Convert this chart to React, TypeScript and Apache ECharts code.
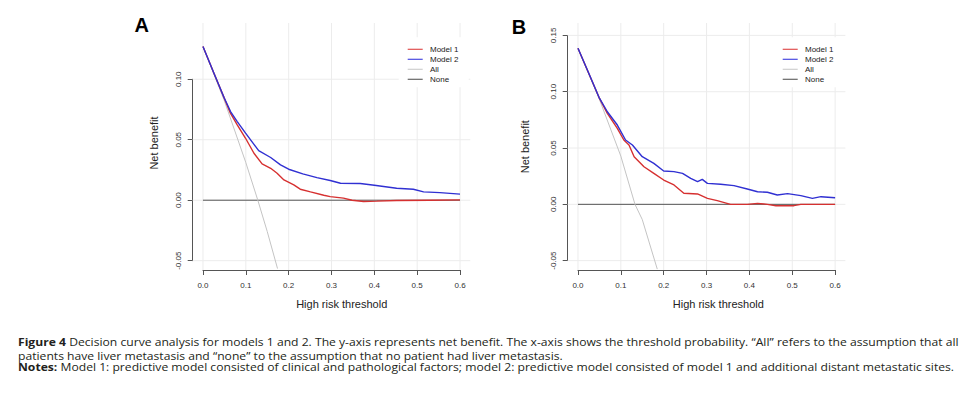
import React, { useEffect, useRef } from "react";
import * as echarts from "echarts";

const xTicks = [0, 0.1, 0.2, 0.3, 0.4, 0.5, 0.6];
const yTicksA = [-0.05, 0, 0.05, 0.1];
const yTicksB = [-0.05, 0, 0.05, 0.1, 0.15];
const legendNames = ["Model 1", "Model 2", "All", "None"];
const legendColors = ["#e05050", "#4a4ae0", "#cfcfcf", "#666666"];
const panelLabels = ["A", "B"];
const xTitle = "High risk threshold";
const yTitle = "Net benefit";

const aModel1: number[][] = [
  [0, 0.127], [0.0256, 0.105], [0.049, 0.085], [0.064, 0.072], [0.08, 0.0623],
  [0.0994, 0.0512], [0.119, 0.0388], [0.138, 0.03], [0.158, 0.0264], [0.173, 0.0223],
  [0.189, 0.0168], [0.212, 0.0127], [0.227, 0.0091], [0.251, 0.0069], [0.282, 0.0041],
  [0.297, 0.003], [0.328, 0.0017], [0.348, 0.0], [0.375, -0.0011], [0.406, -0.0008],
  [0.452, -0.0003], [0.53, 0.0], [0.6, 0.0003],
];
const aModel2: number[][] = [
  [0, 0.127], [0.0256, 0.105], [0.0489, 0.0851], [0.0644, 0.0733], [0.08, 0.065],
  [0.0994, 0.0554], [0.13, 0.041], [0.158, 0.0353], [0.181, 0.0292], [0.2, 0.0256],
  [0.233, 0.0218], [0.266, 0.0187], [0.297, 0.0163], [0.321, 0.014], [0.367, 0.0138],
  [0.4, 0.0124], [0.452, 0.0099], [0.491, 0.0091], [0.515, 0.0069], [0.553, 0.0063],
  [0.6, 0.005],
];
const aAll: number[][] = [
  [0, 0.127], [0.05, 0.0821], [0.1, 0.0311], [0.128, 0.0], [0.15, -0.0259], [0.174, -0.0565],
];
const aNone: number[][] = [[0, 0], [0.6, 0]];

const bModel1: number[][] = [
  [0, 0.1385], [0.049, 0.095], [0.0685, 0.0808], [0.0918, 0.0675], [0.107, 0.0571],
  [0.119, 0.0527], [0.131, 0.0423], [0.154, 0.0334], [0.177, 0.0275], [0.2, 0.0216],
  [0.224, 0.0172], [0.247, 0.0098], [0.279, 0.0092], [0.302, 0.0053], [0.325, 0.0033],
  [0.356, 0.0], [0.395, 0.0], [0.419, 0.0009], [0.442, 0.0], [0.462, -0.0012],
  [0.504, -0.0012], [0.52, 0.0], [0.6, 0.0],
];
const bModel2: number[][] = [
  [0, 0.1385], [0.0257, 0.116], [0.049, 0.095], [0.0685, 0.0822], [0.0918, 0.0704],
  [0.111, 0.0571], [0.127, 0.0527], [0.15, 0.0423], [0.177, 0.0364], [0.2, 0.0296],
  [0.224, 0.029], [0.244, 0.0275], [0.263, 0.0231], [0.279, 0.0201], [0.29, 0.0222],
  [0.302, 0.0186], [0.333, 0.0178], [0.364, 0.0166], [0.395, 0.0136], [0.419, 0.0112],
  [0.442, 0.0107], [0.465, 0.0083], [0.489, 0.0095], [0.52, 0.0077], [0.547, 0.0053],
  [0.567, 0.0068], [0.6, 0.0059],
];
const bAll: number[][] = [
  [0, 0.1385], [0.05, 0.0932], [0.1, 0.0428], [0.133, 0.0], [0.15, -0.0135], [0.185, -0.0575],
];
const bNone: number[][] = [[0, 0], [0.6, 0]];

const captionBold = ["Figure 4", "", "Notes:"];
const captionRest = [
  " Decision curve analysis for models 1 and 2. The y-axis represents net benefit. The x-axis shows the threshold probability. \u201cAll\u201d refers to the assumption that all",
  "patients have liver metastasis and \u201cnone\u201d to the assumption that no patient had liver metastasis.",
  " Model 1: predictive model consisted of clinical and pathological factors; model 2: predictive model consisted of model 1 and additional distant metastatic sites.",
];

const FONT = "'Liberation Sans', Arial, sans-serif";
const CAPFONT = "'Open Sans', 'Liberation Sans', sans-serif";
const CAPSIZE = 10.5;
const lineColors = ["#d63030", "#3030d2", "#c4c4c4", "#555555"];

const panels = [
  {
    grid: { left: 192.7, top: 23, width: 277.6, height: 247 },
    xMin: -0.024, xMax: 0.624, yMin: -0.0577, yMax: 0.1465, yInterval: 0.05,
    yTicks: yTicksA, data: [aModel1, aModel2, aAll, aNone],
    label: { x: 141.7, y: 25 }, yTitle: { x: 153.5, y: 143 }, xTitle: { x: 341.7, y: 303.5 },
    legend: { x: 407.7, y: 49.3 },
  },
  {
    grid: { left: 567.7, top: 23, width: 277.7, height: 247 },
    xMin: -0.024, xMax: 0.624, yMin: -0.0583, yMax: 0.161, yInterval: 0.05,
    yTicks: yTicksB, data: [bModel1, bModel2, bAll, bNone],
    label: { x: 519, y: 26.5 }, yTitle: { x: 525, y: 146.7 }, xTitle: { x: 718.3, y: 304.3 },
    legend: { x: 782.7, y: 49.3 },
  },
];

function captionScaleX(): number {
  const target = 941;
  try {
    const ctx = document.createElement("canvas").getContext("2d");
    if (!ctx) return 1.12;
    ctx.font = `bold ${CAPSIZE}px ${CAPFONT}`;
    const wb = ctx.measureText(captionBold[0]).width;
    ctx.font = `${CAPSIZE}px ${CAPFONT}`;
    const wr = ctx.measureText(captionRest[0]).width;
    const w = wb + wr;
    if (!w) return 1.12;
    return target / w;
  } catch (e) {
    return 1.12;
  }
}

export default function App() {
  const ref = useRef<HTMLDivElement>(null);
  useEffect(() => {
    if (!ref.current) return;
    const chart = echarts.init(ref.current, undefined, { renderer: "svg" });
    const grids: any[] = [];
    const xAxes: any[] = [];
    const yAxes: any[] = [];
    const series: any[] = [];
    const graphics: any[] = [];

    panels.forEach((p, i) => {
      const g = p.grid;
      const px = (v: number) => g.left + ((v - p.xMin) / (p.xMax - p.xMin)) * g.width;
      const py = (v: number) => g.top + ((p.yMax - v) / (p.yMax - p.yMin)) * g.height;
      const dataIdx = i * 2;
      const axIdx = i * 2 + 1;
      const yFirst = p.yTicks[0];
      const yLast = p.yTicks[p.yTicks.length - 1];
      const xFirst = xTicks[0];
      const xLast = xTicks[xTicks.length - 1];

      grids.push({ left: g.left, top: g.top, width: g.width, height: g.height });
      xAxes.push({ type: "value", gridIndex: dataIdx, min: p.xMin, max: p.xMax, show: false });
      yAxes.push({ type: "value", gridIndex: dataIdx, min: p.yMin, max: p.yMax, show: false });

      const axLeft = px(xFirst);
      const axRight = px(xLast);
      const axTop = py(yLast);
      const axBottom = py(yFirst);
      grids.push({ left: axLeft, top: axTop, width: axRight - axLeft, height: axBottom - axTop });
      xAxes.push({
        type: "value", gridIndex: axIdx, min: xFirst, max: xLast, interval: 0.1,
        position: "bottom", offset: g.top + g.height - axBottom,
        axisLine: { show: true, onZero: false, lineStyle: { color: "#555", width: 1 } },
        axisTick: { show: true, length: 5, lineStyle: { color: "#555", width: 1 } },
        axisLabel: { formatter: (v: number) => v.toFixed(1), fontSize: 8, color: "#333", margin: 11, fontFamily: FONT },
        splitLine: { show: false },
      });
      yAxes.push({
        type: "value", gridIndex: axIdx, min: yFirst, max: yLast, interval: p.yInterval,
        position: "left", offset: axLeft - g.left,
        axisLine: { show: true, onZero: false, lineStyle: { color: "#555", width: 1 } },
        axisTick: { show: true, length: 5, lineStyle: { color: "#555", width: 1 } },
        axisLabel: { formatter: (v: number) => v.toFixed(2), fontSize: 8, color: "#333", margin: 10, rotate: 90, fontFamily: FONT },
        splitLine: { show: false },
      });

      xTicks.forEach((v) => {
        series.push({
          type: "line", xAxisIndex: dataIdx, yAxisIndex: dataIdx, silent: true, showSymbol: false, symbol: "none",
          data: [[v, p.yMin], [v, p.yMax]], lineStyle: { color: "#ececec", width: 1 },
        });
      });
      p.yTicks.forEach((v) => {
        series.push({
          type: "line", xAxisIndex: dataIdx, yAxisIndex: dataIdx, silent: true, showSymbol: false, symbol: "none",
          data: [[p.xMin, v], [p.xMax, v]], lineStyle: { color: "#ececec", width: 1 },
        });
      });

      const order = [3, 2, 0, 1];
      order.forEach((k) => {
        series.push({
          type: "line", name: legendNames[k], xAxisIndex: dataIdx, yAxisIndex: dataIdx,
          data: p.data[k], showSymbol: false, symbol: "none", silent: true, clip: true,
          lineStyle: { color: lineColors[k], width: k < 2 ? 1.4 : 1 },
        });
      });

      graphics.push({
        type: "text", x: p.label.x, y: p.label.y,
        style: { text: panelLabels[i], fontSize: 20, fontWeight: "bold", fontFamily: FONT, fill: "#000", align: "center", verticalAlign: "middle" },
      });
      graphics.push({
        type: "text", x: p.yTitle.x, y: p.yTitle.y, rotation: Math.PI / 2,
        style: { text: yTitle, fontSize: 11, fontFamily: FONT, fill: "#222", align: "center", verticalAlign: "middle" },
      });
      graphics.push({
        type: "text", x: p.xTitle.x, y: p.xTitle.y,
        style: { text: xTitle, fontSize: 11, fontFamily: FONT, fill: "#222", align: "center", verticalAlign: "middle" },
      });
      graphics.push({
        type: "rect", z: 100, shape: { x: p.legend.x - 9, y: p.legend.y - 12, width: 70, height: 50 },
        style: { fill: "#fff" },
      });
      legendNames.forEach((name, k) => {
        const ly = p.legend.y + k * 10;
        graphics.push({
          type: "line", z: 101, shape: { x1: p.legend.x, y1: ly, x2: p.legend.x + 15, y2: ly },
          style: { stroke: legendColors[k], lineWidth: 1.2 },
        });
        graphics.push({
          type: "text", z: 101, x: p.legend.x + 22.3, y: ly,
          style: { text: name, fontSize: 8, lineHeight: 9, fontFamily: FONT, fill: "#222", verticalAlign: "middle" },
        });
      });
    });

    const sx = captionScaleX();
    const capY = [342.2, 355.4, 367.2];
    captionRest.forEach((t, k) => {
      const txt = captionBold[k] ? `{b|${captionBold[k]}}${t}` : t;
      graphics.push({
        type: "text", x: 18, y: capY[k], scaleX: sx,
        style: {
          text: txt, fontSize: CAPSIZE, lineHeight: 11, fontFamily: CAPFONT, fill: "#231f20", verticalAlign: "middle",
          rich: { b: { fontSize: CAPSIZE, lineHeight: 11, fontFamily: CAPFONT, fontWeight: "bold", fill: "#231f20" } },
        },
      });
    });

    chart.setOption({
      animation: false,
      backgroundColor: "#fff",
      grid: grids,
      xAxis: xAxes,
      yAxis: yAxes,
      series,
      graphic: graphics,
    });
    return () => chart.dispose();
  }, []);
  return (
    <div
      ref={ref}
      style={{ position: "fixed", left: 0, top: 0, width: 973, height: 399, background: "#fff" }}
    />
  );
}
